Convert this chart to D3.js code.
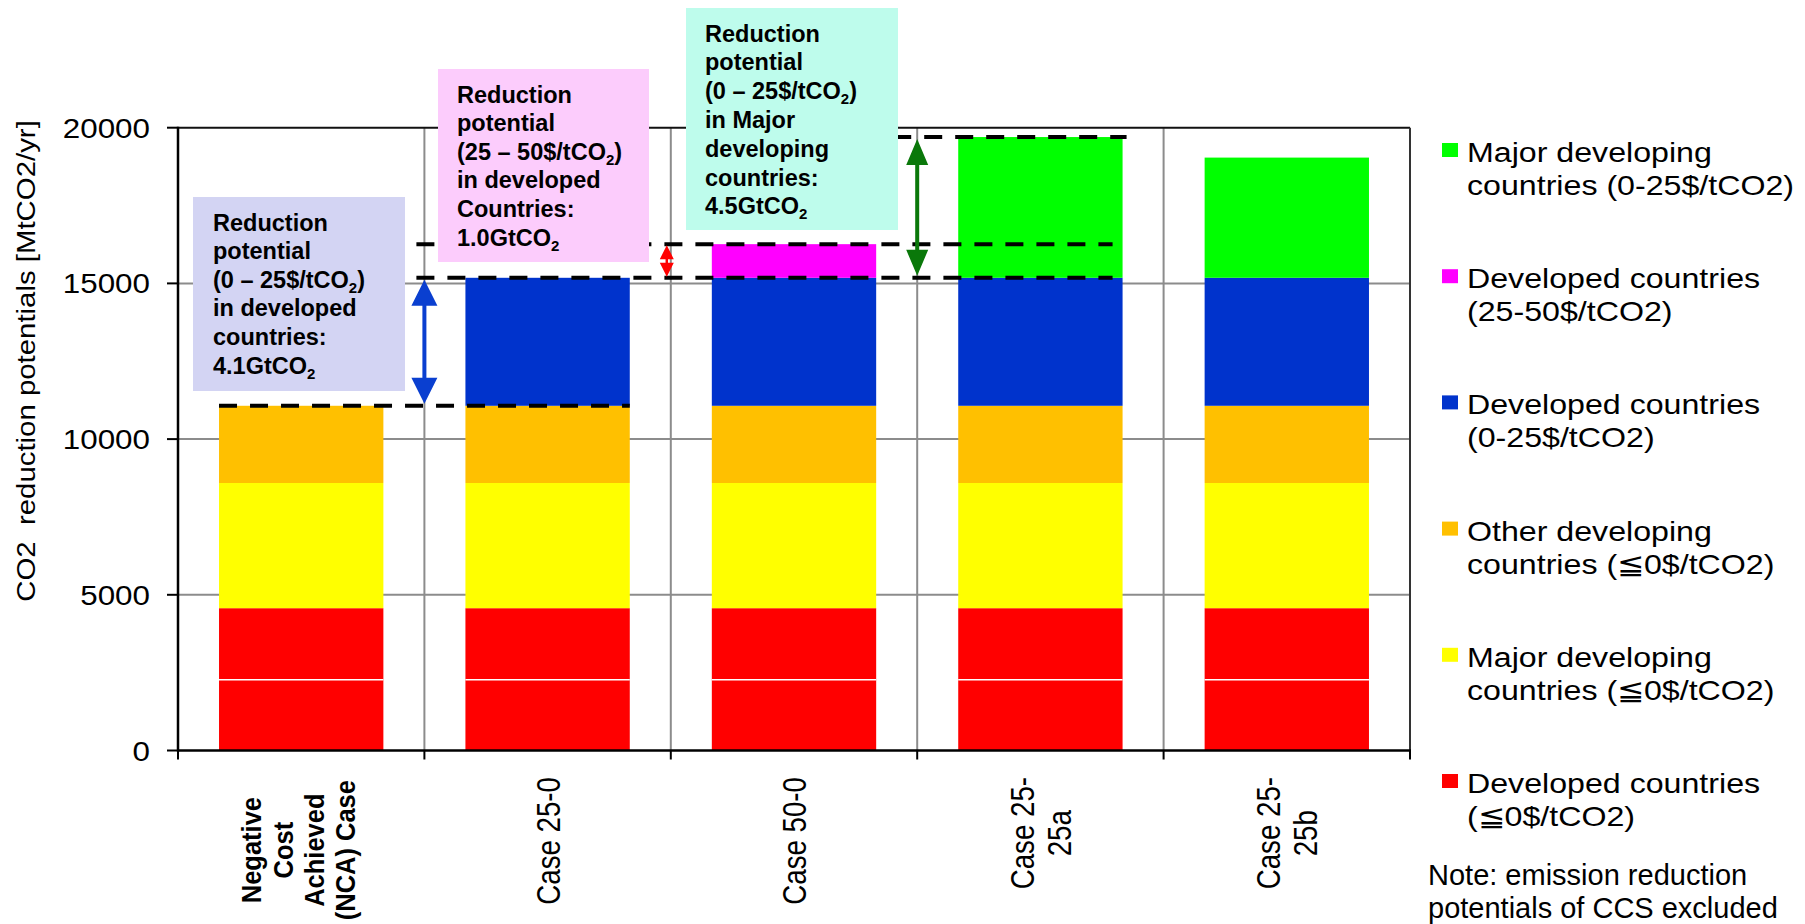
<!DOCTYPE html>
<html><head><meta charset="utf-8">
<script src="https://cdn.jsdelivr.net/npm/d3@7"></script>
<style>
body{margin:0;background:#fff;}
svg{display:block;font-family:"Liberation Sans",Arial,sans-serif;}
</style></head><body>
<svg id="chart" width="1805" height="924"></svg>
<script>
// ---------------- data ----------------
const categories = ["NCA", "Case 25-0", "Case 50-0", "Case 25-25a", "Case 25-25b"];
const categoryLabels = [
  ["Negative", "Cost", "Achieved", "(NCA) Case"],
  ["Case 25-0"],
  ["Case 50-0"],
  ["Case 25-", "25a"],
  ["Case 25-", "25b"]
];
const developedNegLower   = [2270, 2270, 2270, 2270, 2270];
const developedNegUpper   = [2300, 2300, 2300, 2300, 2300];
const majorDevelopingNeg  = [4020, 4020, 4020, 4020, 4020];
const otherDevelopingNeg  = [2480, 2480, 2480, 2480, 2480];
const developed0to25      = [0, 4110, 4110, 4110, 4110];
const developed25to50     = [0, 0, 1080, 0, 0];
const majorDeveloping0to25 = [0, 0, 0, 4520, 3860];
const yTicks = [0, 5000, 10000, 15000, 20000];
const seriesKeys = ["devNegA", "devNegB", "majNeg", "othNeg", "dev0_25", "dev25_50", "maj0_25"];
const seriesColors = ["#ff0000", "#ff0000", "#ffff00", "#ffc000", "#0033cc", "#ff00ff", "#00ff00"];
const legendItems = [
  {color: "#00ff00", lines: ["Major developing", "countries (0-25$/tCO2)"]},
  {color: "#ff00ff", lines: ["Developed countries", "(25-50$/tCO2)"]},
  {color: "#0033cc", lines: ["Developed countries", "(0-25$/tCO2)"]},
  {color: "#ffc000", lines: ["Other developing", "countries (\u22660$/tCO2)"]},
  {color: "#ffff00", lines: ["Major developing", "countries (\u22660$/tCO2)"]},
  {color: "#ff0000", lines: ["Developed countries", "(\u22660$/tCO2)"]}
];
const yAxisTitle = "CO2  reduction potentials [MtCO2/yr]";
const noteLines = ["Note: emission reduction", "potentials of CCS excluded"];
const boxTexts = [
  [["Reduction"], ["potential"], ["(0 \u2013 25$/tCO", "2", ")"], ["in developed"], ["countries:"], ["4.1GtCO", "2"]],
  [["Reduction"], ["potential"], ["(25 \u2013 50$/tCO", "2", ")"], ["in developed"], ["Countries:"], ["1.0GtCO", "2"]],
  [["Reduction"], ["potential"], ["(0 \u2013 25$/tCO", "2", ")"], ["in Major"], ["developing"], ["countries:"], ["4.5GtCO", "2"]]
];

// ---------------- setup ----------------
const svg = d3.select("#chart");
const plotLeft = 178, plotRight = 1410, plotTop = 127.7, plotBottom = 750.5;

const rows = categories.map((c, i) => ({
  cat: c,
  devNegA: developedNegLower[i], devNegB: developedNegUpper[i],
  majNeg: majorDevelopingNeg[i], othNeg: otherDevelopingNeg[i],
  dev0_25: developed0to25[i], dev25_50: developed25to50[i], maj0_25: majorDeveloping0to25[i]
}));
const stack = d3.stack().keys(seriesKeys)(rows);

const x = d3.scaleBand().domain(categories).range([plotLeft, plotRight]).paddingInner(0.333).paddingOuter(0.1665);
const y = d3.scaleLinear().domain([0, 20000]).range([plotBottom, plotTop]);
const bw = x.bandwidth();
const boundary = c => x(c) + bw + (x.step() - bw) / 2;
const center = c => x(c) + bw / 2;
const topOf = (key, i) => y(stack[seriesKeys.indexOf(key)][i][1]);

// gridlines
svg.append("g").selectAll("line").data(yTicks.filter(t => t > 0 && t < 20000)).join("line")
  .attr("x1", plotLeft).attr("x2", plotRight).attr("y1", d => y(d)).attr("y2", d => y(d))
  .attr("stroke", "#8c8c8c").attr("stroke-width", 2);
svg.append("g").selectAll("line").data(categories.slice(0, -1)).join("line")
  .attr("x1", d => boundary(d)).attr("x2", d => boundary(d)).attr("y1", plotTop).attr("y2", plotBottom)
  .attr("stroke", "#8c8c8c").attr("stroke-width", 2);

// bars
stack.forEach((s, si) => {
  svg.append("g").attr("fill", seriesColors[si]).selectAll("rect").data(s).join("rect")
    .attr("x", d => x(d.data.cat)).attr("width", bw)
    .attr("y", d => y(d[1])).attr("height", d => Math.max(0, y(d[0]) - y(d[1])));
});
// thin white seam inside the red block
svg.append("g").selectAll("line").data(stack[0]).join("line")
  .attr("x1", d => x(d.data.cat)).attr("x2", d => x(d.data.cat) + bw)
  .attr("y1", d => y(d[1])).attr("y2", d => y(d[1]))
  .attr("stroke", "#fff").attr("stroke-width", 1.5);

// plot border (top & right)
svg.append("line").attr("x1", plotLeft).attr("x2", plotRight).attr("y1", y(20000)).attr("y2", y(20000))
  .attr("stroke", "#111").attr("stroke-width", 2);
svg.append("line").attr("x1", plotRight).attr("x2", plotRight).attr("y1", plotTop).attr("y2", plotBottom)
  .attr("stroke", "#333").attr("stroke-width", 2);

// y axis
svg.append("line").attr("x1", plotLeft).attr("x2", plotLeft).attr("y1", plotTop - 1).attr("y2", plotBottom + 1)
  .attr("stroke", "#000").attr("stroke-width", 2.5);
svg.append("g").selectAll("line").data(yTicks).join("line")
  .attr("x1", plotLeft - 11).attr("x2", plotLeft).attr("y1", d => y(d)).attr("y2", d => y(d))
  .attr("stroke", "#000").attr("stroke-width", 2);
svg.append("g").selectAll("text").data(yTicks).join("text")
  .attr("transform", d => `translate(150,${y(d)}) scale(1.12,1)`)
  .attr("text-anchor", "end").attr("dy", "0.36em").attr("font-size", 28).text(d => d);

// x axis
svg.append("line").attr("x1", plotLeft - 1).attr("x2", plotRight + 1).attr("y1", plotBottom).attr("y2", plotBottom)
  .attr("stroke", "#000").attr("stroke-width", 2.5);
const xTickPos = [plotLeft].concat(categories.map(c => boundary(c)));
svg.append("g").selectAll("line").data(xTickPos).join("line")
  .attr("x1", d => d).attr("x2", d => d).attr("y1", plotBottom).attr("y2", plotBottom + 9)
  .attr("stroke", "#000").attr("stroke-width", 2);

// x labels (rotated, lines centred, block top-aligned under axis)
categories.forEach((c, ci) => {
  const lines = categoryLabels[ci];
  const bold = ci === 0;
  const fs = bold ? 25.5 : 27.7;
  const sy = bold ? 1.1 : 1.2;
  const spacing = bold ? 31.3 : 37;
  const offset = bold ? -3 : 0;
  const blockTop = bold ? 780 : 777;
  const g = svg.append("g");
  const texts = lines.map((ln) => g.append("text")
    .attr("font-size", fs).attr("font-weight", bold ? "bold" : "normal")
    .attr("text-anchor", "middle").attr("dy", "0.36em").text(ln));
  const maxLen = d3.max(texts, t => t.node().getComputedTextLength());
  const cy = blockTop + maxLen / 2;
  texts.forEach((t, li) => {
    const cx = center(c) + offset + (li - (lines.length - 1) / 2) * spacing;
    t.attr("transform", `translate(${cx},${cy}) rotate(-90) scale(1,${sy})`);
  });
});

// y axis title
svg.append("text").attr("transform", "translate(26,361) rotate(-90) scale(1.13,1)")
  .attr("text-anchor", "middle").attr("dy", "0.36em").attr("font-size", 26)
  .style("white-space", "pre").text(yAxisTitle);

// dashed guide lines
const lOrange = topOf("othNeg", 0);
const lBlue = topOf("dev0_25", 1);
const lMagenta = topOf("dev25_50", 2);
const lGreen = topOf("maj0_25", 3);
const dashed = [
  {x1: x(categories[0]), x2: x(categories[1]) + bw, y: lOrange},
  {x1: boundary(categories[0]) - 8, x2: x(categories[3]) + bw - 10, y: lBlue},
  {x1: boundary(categories[0]) - 8, x2: x(categories[3]) + bw - 10, y: lMagenta},
  {x1: boundary(categories[2]) - 24, x2: x(categories[3]) + bw + 4, y: lGreen}
];
svg.append("g").selectAll("line").data(dashed).join("line")
  .attr("x1", d => d.x1).attr("x2", d => d.x2).attr("y1", d => d.y).attr("y2", d => d.y)
  .attr("stroke", "#000").attr("stroke-width", 4).attr("stroke-dasharray", "18,13");

// double arrows
function dblArrow(cx, yTop, yBot, color, headLen, headW, shaft) {
  const h = headW / 2, s = shaft / 2;
  const pts = [
    [cx, yTop], [cx + h, yTop + headLen], [cx + s, yTop + headLen],
    [cx + s, yBot - headLen], [cx + h, yBot - headLen], [cx, yBot],
    [cx - h, yBot - headLen], [cx - s, yBot - headLen], [cx - s, yTop + headLen],
    [cx - h, yTop + headLen]
  ];
  svg.append("polygon").attr("points", pts.map(p => p.join(",")).join(" ")).attr("fill", color);
}
dblArrow(boundary(categories[0]), lBlue + 2, lOrange - 2, "#0a3fd0", 26, 26, 4);
dblArrow(boundary(categories[1]) - 4, lMagenta + 1, lBlue - 1, "#ff0000", 14, 14, 2.5);
dblArrow(boundary(categories[2]), lGreen + 2, lBlue - 2, "#0a780a", 26, 22, 4);

// annotation boxes
const boxes = [
  {x: 193, y: 197, w: 212, h: 194, fill: "#d3d4f3", tx: 213, ty: 230.5, step: 28.6},
  {x: 438, y: 69, w: 211, h: 193, fill: "#fcccfc", tx: 457, ty: 102.5, step: 28.6},
  {x: 686, y: 8, w: 212, h: 222, fill: "#befcec", tx: 705, ty: 41.5, step: 28.8}
];
boxes.forEach((b, bi) => {
  svg.append("rect").attr("x", b.x).attr("y", b.y).attr("width", b.w).attr("height", b.h).attr("fill", b.fill);
  const t = svg.append("text").attr("font-size", 23.5).attr("font-weight", "bold").attr("fill", "#000");
  boxTexts[bi].forEach((parts, li) => {
    const ln = t.append("tspan").attr("x", b.tx).attr("y", b.ty + li * b.step);
    ln.append("tspan").text(parts[0]);
    if (parts.length > 1) ln.append("tspan").attr("font-size", 15).attr("dy", 5).text(parts[1]);
    if (parts.length > 2) ln.append("tspan").attr("dy", -5).text(parts[2]);
  });
});

// legend
const lg = svg.append("g");
legendItems.forEach((it, i) => {
  const cy = 150 + i * 126.2;
  lg.append("rect").attr("x", 1442).attr("y", cy - 7).attr("width", 16).attr("height", 14).attr("fill", it.color);
  it.lines.forEach((ln, li) => {
    lg.append("text").attr("transform", `translate(1467,${cy + 12 + li * 33}) scale(1.17,1)`)
      .attr("font-size", 27.5).text(ln);
  });
});
noteLines.forEach((ln, li) => {
  svg.append("text").attr("x", 1428).attr("y", 885 + li * 33).attr("font-size", 29).text(ln);
});
</script>
</body></html>
